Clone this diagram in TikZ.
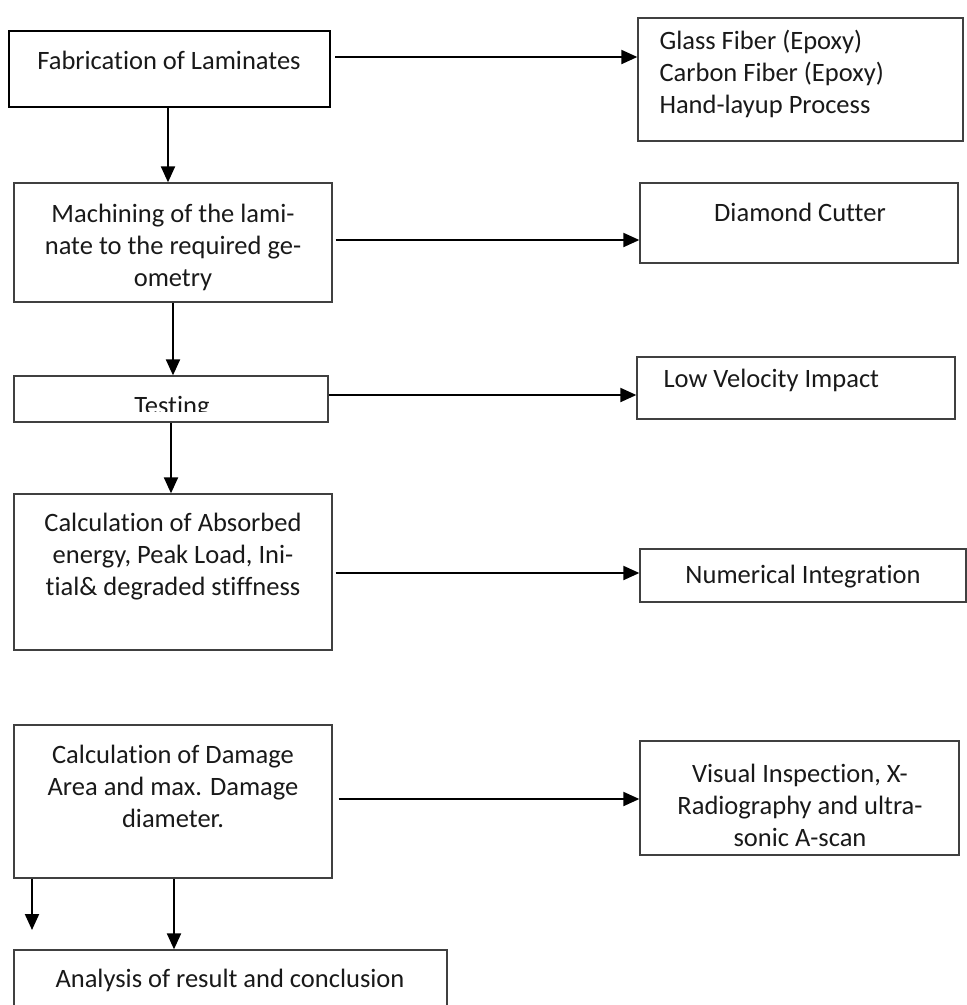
\documentclass[tikz,border=0pt]{standalone}
\usepackage{fontspec}
\setmainfont[Ligatures=NoCommon]{Carlito}
\usetikzlibrary{positioning}
\usetikzlibrary{arrows.meta}

\begin{document}
\begin{tikzpicture}[x=1pt, y=-1pt,
    every node/.style={font=\fontsize{26.5}{32}\selectfont, text=black!90},
    box/.style={draw=black!75, line width=1.3pt, inner sep=0pt},
    arr/.style={line width=2pt, -{Triangle[length=16pt, width=14pt]}}]

    \clip (0,0) rectangle (967,1005);

    % Boxes
    \node[box, line width=2.5pt, draw=black, minimum width=321pt, minimum height=76pt] (fab) at (169.5,69) {};
    \node[box, minimum width=325pt, minimum height=123pt] (glass) at (800.5,79.5) {};
    \node[box, minimum width=318pt, minimum height=119pt] (mach) at (173,242.5) {};
    \node[box, minimum width=318pt, minimum height=80pt] (diam) at (799,223) {};
    \node[box, minimum width=314pt, minimum height=46pt] (test) at (171,399) {};
    \node[box, minimum width=318pt, minimum height=62pt] (low) at (796,388) {};
    \node[box, minimum width=318pt, minimum height=156pt] (calc) at (173,572) {};
    \node[box, minimum width=326pt, minimum height=53pt] (num) at (803,575.5) {};
    \node[box, minimum width=318pt, minimum height=153pt] (dam) at (173,801.5) {};
    \node[box, minimum width=319pt, minimum height=114pt] (vis) at (799.5,798) {};
    \node[box, minimum width=433pt, minimum height=80pt] (ana) at (230.5,990) {};

    % Texts
    \node (fabtxt) at (169,60) {Fabrication of Laminates};
    \node[anchor=west, align=left] (glasstxt) at (656,74) {Glass Fiber (Epoxy)\\Carbon Fiber (Epoxy)\\Hand-layup Process};
    \node[align=center] (machtxt) at (173,247) {Machining of the lami-\\nate to the required ge-\\ometry};
    \node (diamtxt) at (800,212) {Diamond Cutter};
    \begin{scope}
        \clip (test.north west) rectangle ([yshift=11pt]test.south east);
        \node (testtxt) at (172,408) {Testing};
    \end{scope}
    \node[anchor=west] (lowtxt) at (660,380) {Low Velocity Impact};
    \node[align=center] (calctxt) at (173,557) {Calculation of Absorbed\\energy, Peak Load, Ini-\\tial\& degraded stiffness};
    \node (numtxt) at (803,577) {Numerical Integration};
    \node[align=center] (damtxt) at (173,786) {Calculation of Damage\\Area and max. Damage\\diameter.};
    \node[align=center] (vistxt) at (800,805) {Visual Inspection, X-\\Radiography and ultra-\\sonic A-scan};
    \node (anatxt) at (230,980) {Analysis of result and conclusion};

    % Arrows
    \draw[arr] ([xshift=4pt, yshift=12pt]fab.east) -- ([yshift=12pt]fab.east -| glass.west);
    \draw[arr] ([xshift=3pt, yshift=2.5pt]mach.east) -- ([yshift=2.5pt]mach.east -| diam.west);
    \draw[arr] ([yshift=4pt]test.east) -- ([yshift=4pt]test.east -| low.west);
    \draw[arr] ([xshift=3pt, yshift=-1pt]calc.east) -- ([yshift=-1pt]calc.east -| num.west);
    \draw[arr] ([xshift=6pt, yshift=2.5pt]dam.east) -- ([yshift=2.5pt]dam.east -| vis.west);

    \draw[arr] ([xshift=-1.5pt]fab.south) -- ([xshift=-1.5pt]fab.south |- mach.north);
    \draw[arr] (mach.south) -- (mach.south |- test.north);
    \draw[arr] (test.south) -- (test.south |- calc.north);
    \draw[arr] ([xshift=1pt]dam.south) -- ([xshift=1pt]dam.south |- ana.north);
    \coordinate (stub) at (32,930);
    \draw[arr] (dam.south -| stub) -- (stub);

\end{tikzpicture}
\end{document}
